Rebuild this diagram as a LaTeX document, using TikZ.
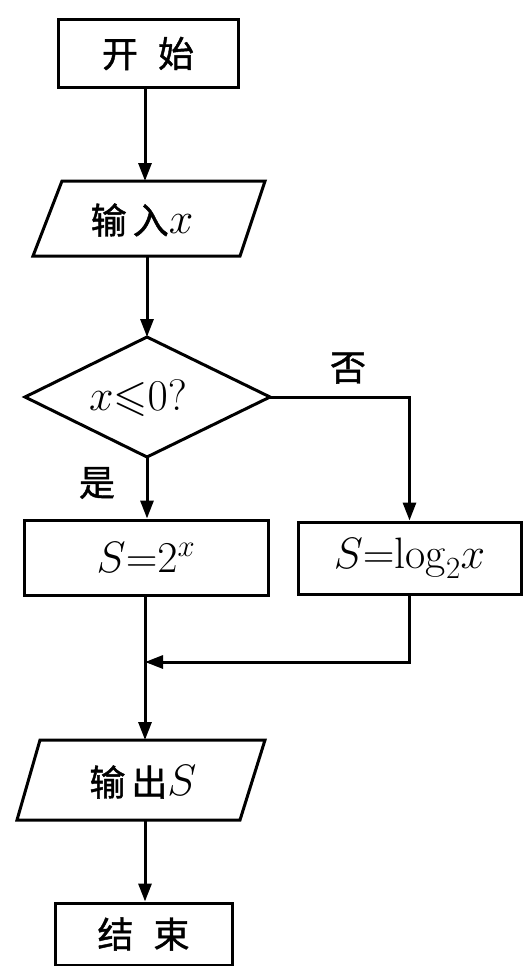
\RequirePackage{fix-cm}
\documentclass[tikz,border=0pt]{standalone}
\usepackage{amssymb}
\usepackage{fontspec}
\newfontfamily\cjk[FakeBold=1.2]{Noto Sans CJK SC}
\usetikzlibrary{arrows.meta}
\newcommand{\mth}[1]{{\fontsize{44}{48}\selectfont$#1$}}
\tikzset{
  line/.style={line width=3pt, line join=miter},
  arr/.style={line, -{Triangle[length=18pt,width=13pt]}},
  box/.style={draw, line width=3pt, rectangle, inner sep=0pt},
  txt/.style={inner sep=0pt, font=\cjk\fontsize{36}{40}\selectfont},
}
\begin{document}
\begin{tikzpicture}[x=1pt,y=-1pt]
\useasboundingbox (0,0) rectangle (531,966);
% start
\node[box, txt, minimum width=180pt, minimum height=67pt] (start) at (148,53.5) {开\hspace{20pt}始};
% input parallelogram
\draw[line] (62,181) -- (265,181) -- (240,256) -- (33,256) -- cycle;
\node[txt] (in) at (142,220) {输\hspace{6pt}入\mth{x}};
\coordinate (inT) at (145,181);
\coordinate (inB) at (147,256);
% decision diamond
\draw[line] (25,397) -- (147,337) -- (270,397) -- (147,457) -- cycle;
\node[txt] (dec) at (138,398) {\mth{x{\leqslant}0?}};
\coordinate (dT) at (147,337);
\coordinate (dB) at (147,457);
\coordinate (dR) at (270,397);
% process boxes
\node[box, txt, minimum width=244pt, minimum height=75pt] (s1) at (146,557.5) {\mth{S{=}2^x}};
\node[box, txt, minimum width=223pt, minimum height=72pt] (s2) at (409.5,558) {\mth{S{=}\mathrm{log}_2 x}};
\coordinate (m) at (145,662);
% output parallelogram
\draw[line] (40,740) -- (265,740) -- (240,820) -- (17,820) -- cycle;
\node[txt] (out) at (143,782) {输\hspace{6pt}出\mth{S}};
\coordinate (outT) at (145,740);
\coordinate (outB) at (145,820);
% end
\node[box, txt, minimum width=177pt, minimum height=62pt] (end) at (143.5,934) {结\hspace{20pt}束};
% labels
\node[txt] (no) at (348,368) {否};
\node[txt] (yes) at (97,483) {是};
% connectors
\draw[arr] (start.south -| inT) -- (inT);
\draw[arr] (inB) -- (dT);
\draw[arr] (dB) -- (dB |- s1.north);
\draw[arr] (dR) -| (s2.north);
\draw[arr] (s2.south) |- (m);
\draw[arr] (m |- s1.south) -- (outT);
\draw[arr] (outB) -- (outB |- end.north);
\end{tikzpicture}
\end{document}
